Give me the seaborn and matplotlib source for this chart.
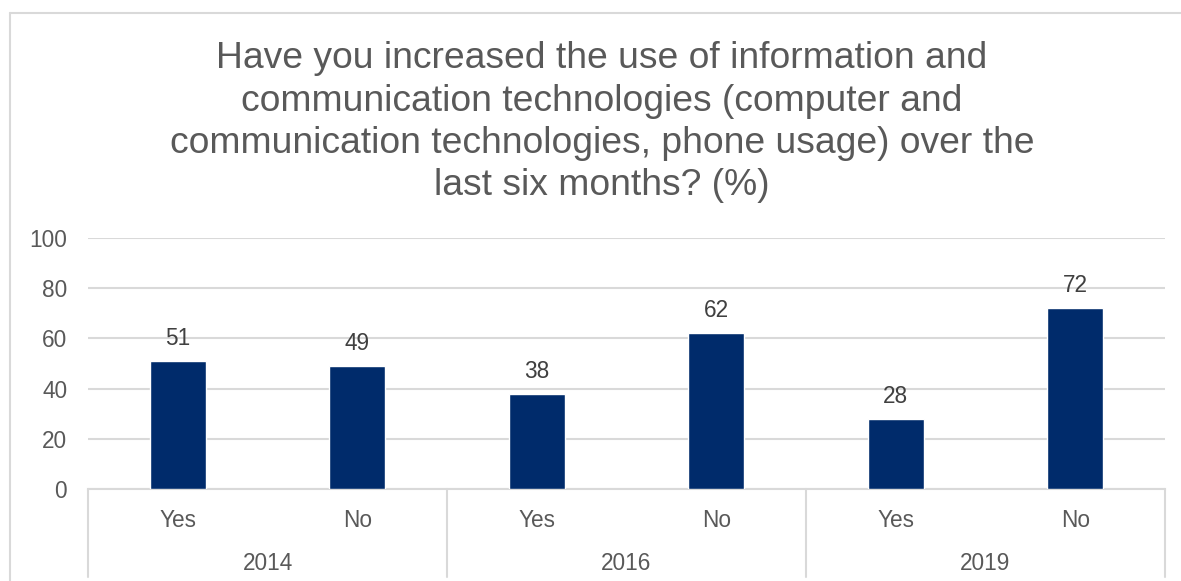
import matplotlib
matplotlib.use("Agg")
import matplotlib.pyplot as plt
from matplotlib.lines import Line2D
import matplotlib.transforms as mtransforms
import seaborn as sns
import pandas as pd

# Survey answers by year
years = ["2014", "2016", "2019"]
answers = ["Yes", "No"]
values_2014 = [51, 49]
values_2016 = [38, 62]
values_2019 = [28, 72]

title_lines = [
    "Have you increased the use of information and",
    "communication technologies (computer and",
    "communication technologies, phone usage) over the",
    "last six months? (%)",
]

rows = []
for yr, vals in zip(years, [values_2014, values_2016, values_2019]):
    for ans, v in zip(answers, vals):
        rows.append({"key": f"{yr} {ans}", "year": yr, "answer": ans, "value": v})
df = pd.DataFrame(rows)

sns.set_theme(style="white")
plt.rcParams["font.family"] = ["Liberation Sans", "DejaVu Sans"]

W, H = 1181, 581
TEXT = "#595959"
LABEL = "#404040"
GRID = "#d9d9d9"
BAR = "#002B6B"
FS = 16.3

fig = plt.figure(figsize=(W / 100, H / 100), dpi=100)
ax = fig.add_axes([88 / W, 92 / H, (1165 - 88) / W, 251 / H])

sns.barplot(data=df, x="key", y="value", color=BAR, width=0.31,
            saturation=1, ax=ax, zorder=3)

ax.set_ylim(0, 100)
ax.set_xlim(-0.5, len(df) - 0.5)
ax.set_yticks(range(0, 101, 20))
ax.yaxis.grid(True, color=GRID, linewidth=1.5, zorder=0)
ax.set_axisbelow(True)
for side in ["top", "right", "left"]:
    ax.spines[side].set_visible(False)
ax.spines["bottom"].set_color(GRID)
ax.spines["bottom"].set_linewidth(1.5)
ax.set_xlabel("")
ax.set_ylabel("")
ax.tick_params(axis="y", length=0, pad=15, labelsize=FS, labelcolor=TEXT)
ax.set_xticks([])

# value labels above bars
for i, v in enumerate(df["value"]):
    ax.annotate(f"{v}", (i, v), xytext=(0, 11.5), textcoords="offset points",
                ha="center", va="baseline", fontsize=FS, color=LABEL)

# two-level category axis: answers, then years, with group separators
trans = mtransforms.blended_transform_factory(ax.transData, ax.transAxes)
for i, ans in enumerate(df["answer"]):
    ax.text(i, -38 / 251, ans, transform=trans, ha="center", va="baseline",
            fontsize=FS, color=TEXT)
n = len(answers)
for gi, yr in enumerate(years):
    center = gi * n + (n - 1) / 2
    ax.text(center, -81 / 251, yr, transform=trans, ha="center",
            va="baseline", fontsize=FS, color=TEXT)
for b in range(len(years) + 1):
    xb = b * n - 0.5
    ax.plot([xb, xb], [0, -88 / 251], transform=trans, color=GRID,
            linewidth=1.5, clip_on=False)

# chart frame
fig.add_artist(Line2D([10 / W, 10 / W], [0, 1 - 13 / H],
                      transform=fig.transFigure, color=GRID, linewidth=1.5))
fig.add_artist(Line2D([10 / W, 1], [1 - 13 / H, 1 - 13 / H],
                      transform=fig.transFigure, color=GRID, linewidth=1.5))

# title, one line at a time
for k, line in enumerate(title_lines):
    fig.text(602 / W, 1 - (68 + 42.5 * k) / H, line, ha="center",
             va="baseline", fontsize=26.8, color=TEXT)

fig.savefig("out.png", dpi=100)
